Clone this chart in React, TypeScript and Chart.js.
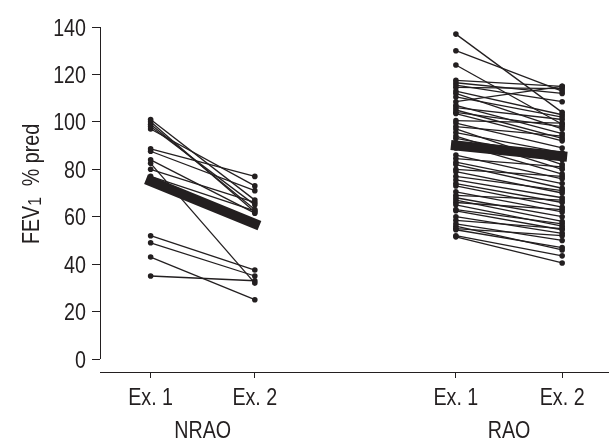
import { useEffect, useRef } from "react";
import { Chart, registerables } from "chart.js";
Chart.register(...registerables);

const yTicks = [0, 20, 40, 60, 80, 100, 120, 140];
const tickLabels = ["Ex. 1", "Ex. 2", "Ex. 1", "Ex. 2"];
const tickPositions = [1, 2, 3.93, 4.95];
const groupLabels = ["NRAO", "RAO"];
const yTitleMain = "FEV";
const yTitleSub = "1";
const yTitleRest = "  % pred";

const nraoEx1 = [101, 100, 99, 98, 97, 88.6, 87.6, 84, 82.5, 80, 77, 52, 49, 43, 35];
const nraoEx2 = [67, 62, 63, 65, 73, 77, 71, 61.5, 32, 66, 62.5, 37.5, 35, 25, 33];

const raoEx1 = [137, 130, 124, 117.5, 116.5, 115.5, 114.5, 113, 112, 110.5, 108.5, 107, 106, 105, 104, 103.5, 100.5, 99.5, 98, 97, 95.5, 94, 93, 91, 89, 86, 84.5, 83, 82, 80, 79, 77, 75.5, 74, 73, 70.5, 69, 68, 67, 66, 65, 63, 62.5, 60, 58.5, 57, 56, 55, 54.5, 52, 51.5];
const raoEx2 = [104, 113, 99, 115, 112, 108.5, 114, 103, 97, 102, 115, 95, 101, 93, 98, 92, 99.5, 89, 94, 82, 87, 80, 85, 78, 84, 76, 81, 74, 72, 77, 70, 71, 68, 66, 64, 62, 67, 60, 58, 63, 56, 57, 54.5, 53, 55, 50, 46, 52, 47, 43.5, 40.5];

const nraoMean = [75, 57];
const raoMean = [90, 85.5];

const INK = "#231f20";
const FONT = "'Liberation Sans', Arimo, Arial, sans-serif";
const NARROW = 0.82;

function narrowText(ctx: CanvasRenderingContext2D, text: string, x: number, y: number, align: CanvasTextAlign, size = 24) {
  ctx.save();
  ctx.translate(x, y);
  ctx.scale(NARROW, 1);
  ctx.font = `${size}px ${FONT}`;
  ctx.textAlign = align;
  ctx.textBaseline = "alphabetic";
  ctx.fillText(text, 0, 0);
  ctx.restore();
}

export default function App() {
  const ref = useRef<HTMLCanvasElement | null>(null);
  useEffect(() => {
    const canvas = ref.current;
    if (!canvas) return;
    const pair = (a: number[], b: number[], x1: number, x2: number) =>
      a.map((v, i) => ({
        data: [
          { x: x1, y: v },
          { x: x2, y: b[i] },
        ],
        borderColor: INK,
        borderWidth: 1.3,
        pointRadius: 2.8,
        pointBackgroundColor: INK,
        pointBorderWidth: 0,
      }));
    const mean = (m: number[], x1: number, x2: number) => ({
      data: [
        { x: x1, y: m[0] },
        { x: x2, y: m[1] },
      ],
      borderColor: INK,
      borderWidth: 10,
      borderCapStyle: "square" as const,
      pointRadius: 0,
    });
    const datasets: any[] = [
      mean(nraoMean, tickPositions[0], tickPositions[1]),
      mean(raoMean, tickPositions[2], tickPositions[3]),
      ...pair(nraoEx1, nraoEx2, tickPositions[0], tickPositions[1]),
      ...pair(raoEx1, raoEx2, tickPositions[2], tickPositions[3]),
    ];
    const decor = {
      id: "decor",
      afterDraw(chart: any) {
        const { ctx, chartArea, scales } = chart;
        const ys = scales.y;
        const xs = scales.x;
        ctx.save();
        ctx.strokeStyle = INK;
        ctx.lineWidth = 1;
        ctx.beginPath();
        ctx.moveTo(chartArea.left + 0.5, ys.getPixelForValue(yTicks[0]));
        ctx.lineTo(chartArea.left + 0.5, ys.getPixelForValue(yTicks[yTicks.length - 1]));
        ctx.stroke();
        ctx.fillStyle = INK;
        yTicks.forEach((t) => {
          narrowText(ctx, String(t), chartArea.left - 14, ys.getPixelForValue(t) + 8.5, "right");
        });
        tickPositions.forEach((p, i) => {
          narrowText(ctx, tickLabels[i], xs.getPixelForValue(p), 405, "center");
        });
        groupLabels.forEach((g, i) => {
          const cx = xs.getPixelForValue((tickPositions[i * 2] + tickPositions[i * 2 + 1]) / 2);
          narrowText(ctx, g, cx, 438, "center");
        });
        ctx.font = `24px ${FONT}`;
        const w1 = ctx.measureText(yTitleMain).width * NARROW;
        const w3 = ctx.measureText(yTitleRest).width * NARROW;
        ctx.font = `19px ${FONT}`;
        const w2 = ctx.measureText(yTitleSub).width * NARROW;
        const total = w1 + w2 + w3;
        ctx.translate(39, 184);
        ctx.rotate(-Math.PI / 2);
        const start = -total / 2;
        narrowText(ctx, yTitleMain, start, 0, "left", 24);
        narrowText(ctx, yTitleSub, start + w1, 2, "left", 19);
        narrowText(ctx, yTitleRest, start + w1 + w2, 0, "left", 24);
        ctx.restore();
      },
    };
    const chart = new Chart(canvas, {
      type: "line",
      data: { datasets },
      plugins: [decor],
      options: {
        animation: false,
        responsive: false,
        devicePixelRatio: 1,
        layout: { padding: { top: 27, left: 0, right: 0, bottom: 0 } },
        plugins: { legend: { display: false }, tooltip: { enabled: false } },
        scales: {
          x: {
            type: "linear",
            min: 0.514,
            max: 5.39,
            afterBuildTicks: (s: any) => {
              s.ticks = tickPositions.map((v) => ({ value: v }));
            },
            afterFit: (s: any) => {
              s.height = 69;
            },
            ticks: { display: false },
            grid: { display: true, drawOnChartArea: false, drawTicks: true, tickLength: 6, color: INK, lineWidth: 1 },
            border: { display: true, color: INK, width: 1 },
          },
          y: {
            type: "linear",
            min: -5.48,
            max: 140,
            afterBuildTicks: (s: any) => {
              s.ticks = yTicks.map((v) => ({ value: v }));
            },
            afterFit: (s: any) => {
              s.width = 100;
            },
            ticks: { display: false },
            grid: { display: true, drawOnChartArea: false, drawTicks: true, tickLength: 8, color: INK, lineWidth: 1 },
            border: { display: false },
          },
        },
      } as any,
    });
    return () => chart.destroy();
  }, []);
  return (
    <div style={{ position: "absolute", left: 0, top: 0, width: 612, height: 441 }}>
      <canvas ref={ref} width={612} height={441} style={{ width: 612, height: 441 }} />
    </div>
  );
}
